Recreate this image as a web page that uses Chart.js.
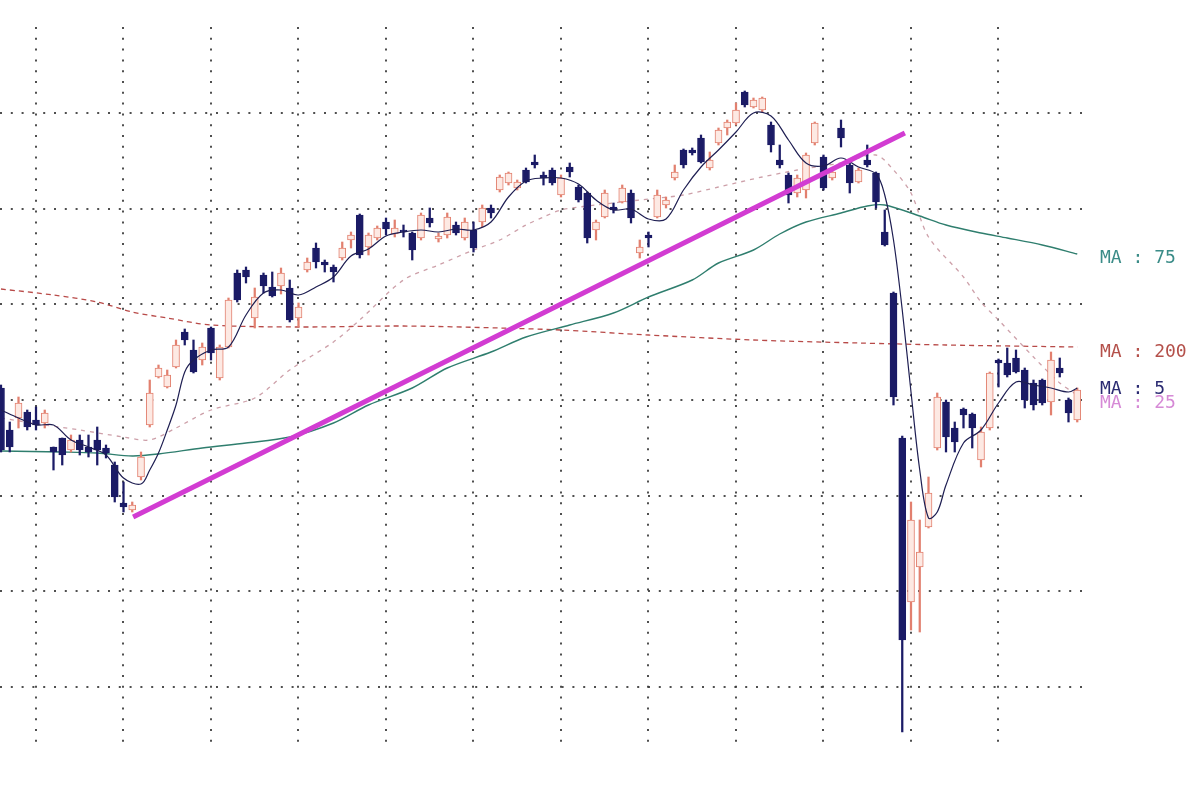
<!DOCTYPE html>
<html>
<head>
<meta charset="utf-8">
<script src="https://cdn.jsdelivr.net/npm/chart.js@4.4.0/dist/chart.umd.min.js"></script>
<style>
  html, body { margin: 0; padding: 0; background: #fff; }
  #wrap { width: 1200px; height: 794px; }
</style>
</head>
<body>
<div id="wrap"><canvas id="myChart" width="1200" height="794"></canvas></div>
<script>
// daily candles, one per bar index 0..123
const opens = [412,370,382,388,380,377,353,362,350,360, 353,360,352,335,297,290,323,375,423,413,
  433,468,450,440,472,422,453,527,530,482, 525,513,514,512,482,530,552,538,533,542,
  560,585,553,562,578,566,570,567,562,582, 561,565,575,562,570,578,592,610,617,612,
  630,638,625,630,605,633,613,607,570,583, 593,598,607,547,565,583,595,622,650,650,
  662,632,657,672,677,708,693,690,675,640, 625,607,610,657,643,622,672,635,618,640,
  627,568,507,362,198,233,273,352,398,372, 391,386,340,372,440,437,442,430,417,420,
  398,432,400,380];
const highs = [415,378,403,390,393,390,353,362,365,365, 365,373,355,338,318,298,348,420,435,430,
  460,471,460,457,473,455,502,530,533,512, 527,528,532,520,497,542,557,540,535,558,
  568,586,567,574,582,580,575,568,587,592, 567,587,578,582,578,595,595,625,628,620,
  632,645,628,632,625,637,615,608,580,610, 597,615,610,560,568,610,603,635,651,652,
  665,648,672,680,697,709,702,703,678,655, 627,625,647,678,645,632,680,637,632,655,
  628,590,508,364,298,280,323,407,400,378, 392,387,373,428,441,452,450,432,420,421,
  448,442,402,412];
const lows = [348,348,372,370,370,372,330,335,348,345, 343,335,342,298,288,288,320,373,422,412,
  432,455,427,435,440,420,452,498,517,472, 507,503,506,478,473,528,532,528,518,540,
  552,542,545,560,565,563,563,540,560,573, 558,562,565,560,548,573,582,608,615,610,
  617,632,615,615,603,623,598,557,560,582, 587,597,577,542,553,582,592,620,632,645,
  637,630,655,665,675,693,692,688,648,632, 597,603,602,655,610,620,653,607,617,633,
  592,554,395,68,170,168,272,350,348,348, 372,352,333,370,413,423,427,392,390,395,
  385,423,378,378];
const closes = [350,353,397,373,375,387,348,345,360,350, 348,350,347,303,293,295,343,407,432,425,
  455,460,428,453,447,453,500,500,523,503, 514,504,527,480,493,538,538,535,528,552,
  565,545,565,572,571,572,568,550,585,577, 564,583,567,578,552,592,587,623,627,618,
  618,635,622,617,622,628,600,562,578,607, 590,612,582,553,562,605,600,628,635,647,
  638,640,670,678,690,695,700,702,655,635, 605,622,645,677,612,628,662,617,630,635,
  598,555,403,160,280,248,307,403,363,358, 385,372,368,427,437,425,428,400,395,397,
  440,427,387,410];

// moving averages (bar index -> value)
const ma5Bars = [0,2,4,6,8,10,12,14,16,17,18,19,20,21,22,24,26,28,30,32,34,36,38,40,42,44,46,48,50,52,54,56,58,60,62,64,66,68,70,72,74,76,78,80,82,84,86,88,90,92,94,96,98,100,101,102,103,104,105,106,107,108,110,112,114,116,118,120,122,123];
const ma5Values = [390,382,375,375,360,353,345,322,316,330,347,370,395,428,440,450,453,485,507,510,505,513,523,544,551,564,568,570,568,571,570,578,603,619,622,622,616,600,590,591,581,581,610,633,650,668,687,684,660,637,634,642,633,626,605,560,490,408,330,282,288,315,357,370,397,418,415,412,408,412];
const ma25Bars = [0,5,9,14,17,20,24,29,33,38,41,46,50,54,57,60,62,64,68,73,78,82,87,91,96,100,102,104,106,110,112,114,118,121,123];
const ma25Values = [382,375,370,363,360,372,390,402,430,458,480,520,535,550,560,575,583,590,595,600,605,613,623,630,637,645,630,607,563,523,498,480,443,417,405];
const ma75Bars = [0,7,11,15,18,23,28,33,38,42,47,51,56,60,65,70,74,79,82,86,89,92,96,99,101,105,108,112,115,119,123];
const ma75Values = [349,348,347,344,346,352,357,363,377,395,412,432,448,463,475,487,503,520,537,550,566,578,587,594,595,584,575,567,562,555,546];
const ma200Bars = [0,6,11,15,19,24,34,46,57,64,74,86,98,108,123];
const ma200Values = [511,505,498,488,482,475,473,474,472,470,465,460,457,455,453];

// hand drawn trend line
const trendBars = [15.1, 103.3];
const trendValues = [283, 667];

const xGridBars = [4,14,24,34,44,54,64,74,84,94,104,114];
const yGridValues = [113,209,304,400,496,591,687];

const maLabels = ['MA : 75', 'MA : 200', 'MA : 5', 'MA : 25'];
const maLabelLevels = [542, 448, 411, 397];
const maLabelColors = ['#3b8c88', '#b4504a', '#2b2b72', '#d68ad6'];

const NAVY = '#1b1b66';
const PINK_LINE = '#e2806f';
const PINK_FILL = '#fde9e3';

const isUp = (i) => closes[i] >= opens[i];
const pts = (xs, ys) => xs.map((x, k) => ({ x: x, y: ys[k] }));

const wickData = opens.map((o, i) => ({ x: i, y: [lows[i], highs[i]] }));
const bodyData = opens.map((o, i) => ({ x: i, y: [o, closes[i]] }));

const labelPlugin = {
    id: 'maLabels',
    afterDraw(chart) {
        const c = chart.ctx;
        const ys = chart.scales.y;
        c.save();
        c.font = '18px "DejaVu Sans Mono", monospace';
        c.textBaseline = 'middle';
        maLabels.forEach((t, k) => {
            c.fillStyle = maLabelColors[k];
            c.fillText(t, 1100, ys.getPixelForValue(maLabelLevels[k]));
        });
        c.restore();
    }
};

const ctx = document.getElementById('myChart');

var chart = new Chart(ctx, {
    type: 'bar',
    data: {
        datasets: [
        {
            type: 'line', label: 'MA 200', data: pts(ma200Bars, ma200Values),
            borderColor: '#b84a48', borderWidth: 1.3, borderDash: [5, 4],
            pointRadius: 0, tension: 0.3, order: 7
        },
        {
            type: 'line', label: 'MA 75', data: pts(ma75Bars, ma75Values),
            borderColor: '#2f7e6e', borderWidth: 1.4,
            pointRadius: 0, tension: 0.3, order: 6
        },
        {
            type: 'line', label: 'MA 25', data: pts(ma25Bars, ma25Values),
            borderColor: 'rgba(200,150,160,0.9)', borderWidth: 1.3, borderDash: [4, 5],
            pointRadius: 0, tension: 0.3, order: 5
        },
        {
            label: 'wick', data: wickData, grouped: false, barThickness: 1.6,
            backgroundColor: opens.map((o, i) => isUp(i) ? PINK_LINE : NAVY),
            order: 4
        },
        {
            label: 'body', data: bodyData, grouped: false, barThickness: 7,
            backgroundColor: opens.map((o, i) => isUp(i) ? PINK_FILL : NAVY),
            borderColor: opens.map((o, i) => isUp(i) ? PINK_LINE : NAVY),
            borderWidth: 1, borderSkipped: false,
            order: 3
        },
        {
            type: 'line', label: 'MA 5', data: pts(ma5Bars, ma5Values),
            borderColor: '#1e1e52', borderWidth: 1.2,
            pointRadius: 0, tension: 0.35, order: 2
        },
        {
            type: 'line', label: 'trend', data: pts(trendBars, trendValues),
            borderColor: '#d23cd2', borderWidth: 5,
            pointRadius: 0, order: 1
        }
        ]
    },
    options: {
        responsive: false,
        animation: false,
        devicePixelRatio: 1,
        events: [],
        layout: { padding: { left: 0, right: 114, top: 27, bottom: 47 } },
        plugins: { legend: { display: false }, tooltip: { enabled: false } },
        scales: {
            x: {
                type: 'linear', offset: false,
                min: -0.114, max: 124,
                afterBuildTicks: (scale) => { scale.ticks = xGridBars.map(v => ({ value: v })); },
                ticks: { display: false },
                grid: { offset: false, color: 'rgba(60,60,60,0.9)', lineWidth: 2, drawTicks: false },
                border: { display: false, dash: [2, 8.8] }
            },
            y: {
                min: 53, max: 773,
                afterBuildTicks: (scale) => { scale.ticks = yGridValues.map(v => ({ value: v })); },
                ticks: { display: false },
                grid: { color: 'rgba(60,60,60,0.9)', lineWidth: 2, drawTicks: false },
                border: { display: false, dash: [2, 8.8] }
            }
        }
    },
    plugins: [labelPlugin]
});
</script>
</body>
</html>
